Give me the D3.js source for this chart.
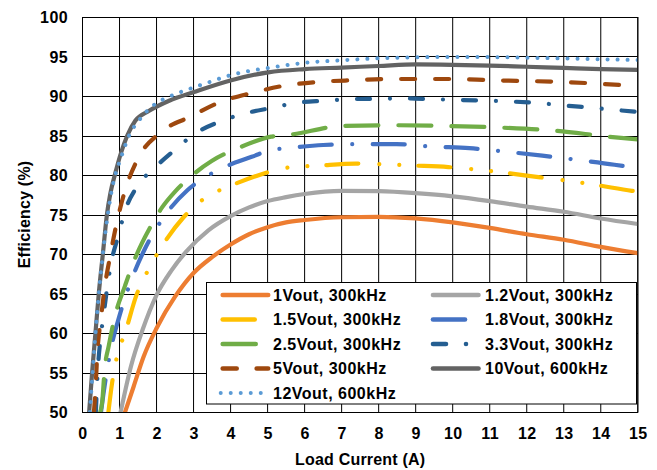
<!DOCTYPE html>
<html>
<head>
<meta charset="utf-8">
<script src="https://cdn.jsdelivr.net/npm/d3@7"></script>
<style>
  html, body { margin: 0; padding: 0; background: #fff; }
  svg text { font-family: "Liberation Sans", Arial, sans-serif; font-weight: bold; fill: #000; }
</style>
</head>
<body>
<svg id="chart" width="657" height="470"></svg>
<script>
// ---------------- data ----------------
const xTicks = [0,1,2,3,4,5,6,7,8,9,10,11,12,13,14,15];
const yTicks = [50,55,60,65,70,75,80,85,90,95,100];
const xTitle = "Load Current (A)";
const yTitle = "Efficiency (%)";

const names = ["1Vout, 300kHz","1.2Vout, 300kHz","1.5Vout, 300kHz","1.8Vout, 300kHz",
               "2.5Vout, 300kHz","3.3Vout, 300kHz","5Vout, 300kHz","10Vout, 600kHz","12Vout, 600kHz"];

const i1V  = [1.15,1.38,1.65,2,2.5,3,3.5,4,4.5,5,5.5,6,7,8,9,10,11,12,13,14,15];
const e1V  = [50,53.2,57.0,60.6,64.6,67.6,69.6,71.2,72.5,73.4,74.0,74.3,74.65,74.7,74.5,74.0,73.3,72.5,71.8,70.9,70.1];

const i1V2 = [1.03,1.31,1.63,2,2.4,2.8,3.4,4,4.5,5,5.5,6,7,8,9,10,11,12,13,14,15];
const e1V2 = [50,55.8,60.5,64.8,67.9,70.3,73.0,74.8,75.9,76.7,77.2,77.6,78.0,77.95,77.7,77.3,76.7,76.0,75.35,74.5,73.8];

const i1V5 = [0.7,0.8,0.89,1.19,1.45,1.67,2.15,2.73,3.11,3.5,3.98,4.9,5.41,6.42,7.38,7.9,8.9,9.88,10.4,11.39,12.37,12.89,13.86,14.84,15];
const e1V5 = [50,53.7,56.1,60.6,64.7,67.0,71.0,74.65,76.4,77.6,78.6,80.2,80.85,81.2,81.45,81.4,81.2,81.0,80.8,80.3,79.7,79.4,78.75,78.0,77.9];

const i1V8 = [0.5,0.56,0.75,1.0,1.32,1.69,2.2,2.84,3.45,4.57,5.13,5.53,6.5,7.47,8.48,9.46,10.45,11.43,12.42,13.39,14.37,15];
const e1V8 = [50,52.1,57.6,62.2,66.7,70.7,74.7,78.1,80.1,82.3,83.2,83.4,83.8,83.9,83.9,83.6,83.4,82.95,82.45,81.9,81.3,80.85];

const i2V5 = [0.48,0.53,0.6,0.71,0.88,1.15,1.39,1.88,2.15,2.5,2.9,3.5,4.2,5.1,5.6,7,8.4,9.9,11.3,12.8,14.2,15];
const e2V5 = [50,51.2,55.5,58.4,62.2,66.0,69.1,73.8,75.9,77.9,79.7,81.8,83.4,84.85,85.1,86.2,86.3,86.2,86.0,85.6,84.85,84.5];

const i3V3 = [0.36,0.42,0.48,0.57,0.66,0.78,0.96,1.16,1.47,1.97,2.5,3.06,3.71,4.39,5.11,5.8,6.53,7.25,8,8.7,9.44,10.16,11.58,12.32,13.03,13.77,14.48,15];
const e3V3 = [50,55.8,59.0,62.3,65.5,69.0,72.2,75.6,78.5,81.0,83.2,85.3,86.75,87.8,88.5,89.15,89.4,89.6,89.65,89.7,89.6,89.5,89.3,89.1,88.8,88.5,88.2,88.0];

const i5V  = [0.31,0.35,0.40,0.50,0.60,0.75,0.89,1.14,1.5,2.11,2.92,3.73,4.59,5.32,6.42,7.34,8.24,9.19,10.1,11,11.93,12.85,13.75,14.66,15];
const e5V  = [50,52.8,57.4,61.9,65.8,69.8,73.2,77.9,82.1,85.4,87.4,89.25,90.4,91.2,91.8,92.0,92.15,92.15,92.15,92.0,91.9,91.8,91.6,91.35,91.25];

const i10V = [0.18,0.26,0.35,0.44,0.55,0.66,0.75,0.89,1.02,1.21,1.43,1.79,2.34,3.01,4.02,5.02,6,7,8,9,10,11,12,13,14,15];
const e10V = [50,55,60,65,70,75,77.6,80.3,82.5,85.0,86.9,88.1,89.4,90.5,92.0,93.0,93.4,93.6,93.8,94.0,93.95,93.85,93.7,93.55,93.4,93.3];

const i12V = [0.2,0.35,0.55,0.78,1.07,1.25,1.54,1.91,2.38,2.89,3.39,3.90,4.43,4.96,6,7.11,8.15,9,10.3,12,13,14,15];
const e12V = [50,60,70,77.8,82.6,84.9,87.0,88.8,90.0,90.9,91.7,92.5,93.1,93.5,94.2,94.55,94.8,94.9,94.95,94.85,94.75,94.65,94.55];

const currents = [i1V, i1V2, i1V5, i1V8, i2V5, i3V3, i5V, i10V, i12V];
const effs     = [e1V, e1V2, e1V5, e1V8, e2V5, e3V3, e5V, e10V, e12V];

// ---------------- styles ----------------
const colors = ["#ED7D31","#A5A5A5","#FFC000","#4472C4","#70AD47","#255E91","#9E480E","#636363","#5B9BD5"];
const dashes = [null, null, "32 21 0.01 20 0.01 19", "32 20.5 0.01 20.5", "33 20", "13 20 0.01 20", "14 20", null, "0.01 10"];
const widths = [4.2, 4.2, 4.2, 4.2, 4.2, 4.2, 4.2, 4.2, 4];

// ---------------- layout ----------------
const L = 82.5, R = 637.8, T = 17, B = 412;
const svg = d3.select("#chart");
const x = d3.scaleLinear().domain([0, 15]).range([L, R]);
const y = d3.scaleLinear().domain([50, 100]).range([B, T]);
const FONT = "'Liberation Sans', Arial, sans-serif";

// grid
const grid = svg.append("g");
grid.selectAll("line.v").data(xTicks).join("line")
  .attr("x1", d => x(d)).attr("x2", d => x(d)).attr("y1", T).attr("y2", B)
  .attr("stroke", "#000").attr("stroke-width", 1);
grid.selectAll("line.h").data(yTicks).join("line")
  .attr("x1", L).attr("x2", R).attr("y1", d => Math.round(y(d)) + 0.5).attr("y2", d => Math.round(y(d)) + 0.5)
  .attr("stroke", "#000").attr("stroke-width", 1);

// tick labels via axes (no domain/tick lines)
const xAxis = svg.append("g").attr("transform", `translate(0,${B})`)
  .call(d3.axisBottom(x).tickValues(xTicks).tickSize(0).tickPadding(0).tickFormat(d3.format("d")));
xAxis.select(".domain").remove();
xAxis.selectAll("text").attr("y", 26.5).attr("dy", null)
  .style("font-size", "16px").style("font-family", FONT).style("font-weight", "bold")
  .style("letter-spacing", "0.4px").attr("fill", "#000");

const yAxis = svg.append("g").attr("transform", `translate(68,0)`)
  .call(d3.axisLeft(y).tickValues(yTicks).tickSize(0).tickPadding(0).tickFormat(d3.format("d")));
yAxis.select(".domain").remove();
yAxis.selectAll("text").attr("x", 0).attr("dy", "0.36em")
  .style("font-size", "16px").style("font-family", FONT).style("font-weight", "bold")
  .style("letter-spacing", "0.4px").attr("fill", "#000");

// titles
svg.append("text").attr("x", (L + R) / 2).attr("y", 465).attr("text-anchor", "middle")
  .style("font-size", "16px").style("letter-spacing", "0.2px").text(xTitle);
svg.append("text").attr("transform", `translate(29.5,${(T + B) / 2}) rotate(-90)`).attr("text-anchor", "middle")
  .style("font-size", "16px").style("letter-spacing", "0.2px").text(yTitle);

// clip
svg.append("clipPath").attr("id", "plotclip").append("rect")
  .attr("x", L).attr("y", T).attr("width", R - L).attr("height", B - T);

const line = d3.line().x(d => x(d[0])).y(d => y(d[1])).curve(d3.curveMonotoneX);
const series = currents.map((cs, i) => cs.map((c, j) => [c, effs[i][j]]));

const plot = svg.append("g").attr("clip-path", "url(#plotclip)");
plot.selectAll("path").data(series).join("path")
  .attr("d", line)
  .attr("fill", "none")
  .attr("stroke", (d, i) => colors[i])
  .attr("stroke-width", (d, i) => widths[i])
  .attr("stroke-linecap", "round")
  .attr("stroke-linejoin", "round")
  .attr("stroke-dasharray", (d, i) => dashes[i]);

// frame
svg.append("rect").attr("x", L).attr("y", T + 0.5).attr("width", R - L).attr("height", B - T)
  .attr("fill", "none").attr("stroke", "#000").attr("stroke-width", 1);

// legend
const lg = svg.append("g");
lg.append("rect").attr("x", 206.5).attr("y", 282.5).attr("width", 430).attr("height", 121.5)
  .attr("fill", "#fff").attr("stroke", "#000").attr("stroke-width", 1);
const colX = [220.7, 431];
const textX = [273, 485];
names.forEach((n, i) => {
  const c = i % 2, r = Math.floor(i / 2);
  const yy = 295 + r * 24.5;
  const isDot = i === 8;
  lg.append("line")
    .attr("x1", isDot ? colX[c] : colX[c] + 2).attr("x2", colX[c] + 47.5)
    .attr("y1", yy).attr("y2", yy)
    .attr("stroke", colors[i]).attr("stroke-width", isDot ? 4 : 4.6)
    .attr("stroke-linecap", "round")
    .attr("stroke-dasharray", dashes[i]);
  lg.append("text").attr("x", textX[c]).attr("y", yy).attr("dy", "0.36em")
    .style("font-size", "16px").style("letter-spacing", "0.5px").text(n);
});
</script>
</body>
</html>
